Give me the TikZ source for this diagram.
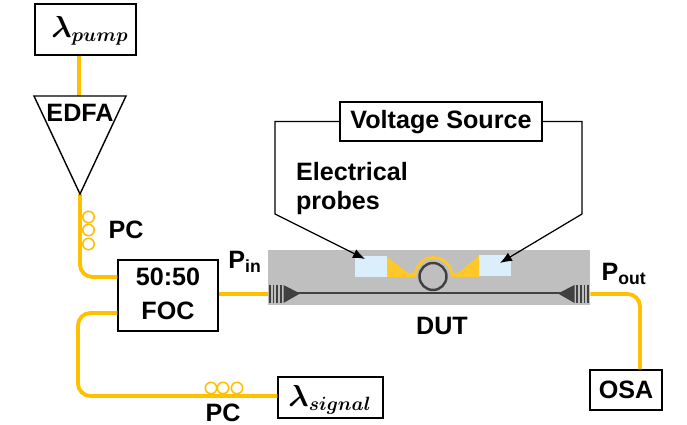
\documentclass[tikz,border=0pt]{standalone}
\usepackage{amsmath}
\usepackage{bm}
\usepackage{fontspec}
\setmainfont{Liberation Sans}
\usetikzlibrary{arrows.meta}
\tikzstyle{layout} = [x = .02cm, y = -.02cm]
\definecolor{fibreColor}{RGB}{255,192,0}
\definecolor{padColor}{RGB}{218,238,252}
\definecolor{goldColor}{RGB}{255,200,40}
\definecolor{chipColor}{RGB}{191,191,191}
\definecolor{guideColor}{RGB}{64,64,64}
\tikzstyle{boxStyle} = [draw=black, fill=white, thick, inner sep=0pt]
\tikzstyle{fibre} = [color=fibreColor, line width=2.2pt, rounded corners=.25cm]
\tikzstyle{coil} = [color=fibreColor, line width=.9pt]
\tikzstyle{wire} = [color=black, line width=.7pt]
\tikzstyle{probeArrow} = [wire, -{Latex[length=.24cm,width=.19cm]}]
\tikzstyle{boldText} = [font=\fontsize{14.3}{16}\selectfont\bfseries, inner sep=0pt]
\tikzstyle{lambdaText} = [font=\fontsize{16}{18}\selectfont, inner sep=0pt]
\newcommand{\labelBox}[4]{\node [boxStyle, minimum width=#3*.02cm, minimum height=#4*.02cm] (#1) at (#2) {};}
\newcommand{\coilCircle}[2]{\draw [coil] (#1,#2) circle [radius=5.7];}
\newcommand{\gratingCoupler}[2]{
  \foreach \tooth in {0,1,2,3} {
    \draw [color=guideColor, line width=1pt] (#1 + #2 * \tooth * 3.6, 285) -- + (0,18);
  }
  \fill [guideColor] (#1 + #2 * 13.5, 285) -- (#1 + #2 * 30, 293.5) -- (#1 + #2 * 13.5, 303) -- cycle;
}
\begin{document}
\begin{tikzpicture}[layout]
  \useasboundingbox (0,0) rectangle (687,425);
  % fibres first, boxes on top
  \coordinate (edfaTop) at (79,96);
  \coordinate (edfaTip) at (80,194);
  \coordinate (outCorner) at (640,294);
  \labelBox{pump}{85.5,29.5}{101}{51}
  \labelBox{foc}{168,295.5}{100}{71}
  \labelBox{signal}{330.5,397.5}{105}{41}
  \labelBox{osa}{626,390}{72}{40}
  \labelBox{source}{441,121.5}{202}{39}
  \fill [chipColor] (268,250) rectangle (590,305);
  \node [inner sep=0pt, minimum size=0pt] (chipIn) at (268,294) {};
  \node [inner sep=0pt, minimum size=0pt] (chipOut) at (590,294) {};

  \draw [fibre] (pump.south -| edfaTop) -- (edfaTop);
  \draw [fibre] (edfaTip) -- (80,277) -- (foc.west |- 0,277);
  \draw [fibre] (foc.west |- 0,313) -- (78,313) -- (78,396) -- (signal.west |- 0,396);
  \draw [fibre] (foc.east |- chipIn) -- (chipIn);
  \draw [fibre] (chipOut) -- (outCorner) -- (outCorner |- osa.north);

  \draw [boxStyle, line join=miter] (34,96) -- (126,96) -- (edfaTip) -- cycle;
  \foreach \row in {217,230,244} {
    \coilCircle{88.5}{\row}
  }
  \foreach \column in {211,223,237} {
    \coilCircle{\column}{388}
  }

  % chip
  \fill [padColor] (355,256) rectangle (387,277);
  \fill [padColor] (479,255) rectangle (511,276);
  \fill [goldColor] (387,257) -- (408,273) -- (415,273) -- (415,277) -- (387,277) -- cycle;
  \fill [goldColor] (479,256) -- (458,273) -- (452,273) -- (452,277) -- (479,277) -- cycle;
  \draw [color=goldColor, line width=1.5pt] (415,276) arc [start angle=180, end angle=360, radius=18.5];
  \draw [color=guideColor, line width=1.4pt] (433,276.5) circle [radius=13.5];
  \draw [color=guideColor, line width=1.3pt] (295,293) -- (565,293);
  \gratingCoupler{270}{1}
  \gratingCoupler{588}{-1}

  % probes
  \coordinate (probeLeft) at (275,214);
  \coordinate (probeRight) at (582,214);
  \coordinate (padLeft) at (365,259);
  \coordinate (padRight) at (500,263);
  \draw [probeArrow] (source.west) -- (probeLeft |- source.west) -- (probeLeft) -- (padLeft);
  \draw [probeArrow] (source.east) -- (probeRight |- source.east) -- (probeRight) -- (padRight);

  % labels
  \node [lambdaText] (pumpLabel) at (90,31) {$\bm{\lambda_{pump}}$};
  \node [lambdaText] (signalLabel) at (330,400) {$\bm{\lambda_{signal}}$};
  \node [boldText] (edfaLabel) at (80,113) {EDFA};
  \node [boldText] (pcTop) at (126,230) {PC};
  \node [boldText] (pcBottom) at (223,413) {PC};
  \node [boldText] (focFifty) at (168,277) {50:50};
  \node [boldText] (focLabel) at (168,311) {FOC};
  \node [boldText] (osaLabel) at (osa.center) {OSA};
  \node [boldText] (sourceLabel) at (441,122) {Voltage Source};
  \node [boldText] (probesTop) at (352,172) {Electrical};
  \node [boldText] (probesBottom) at (338,203) {probes};
  \node [boldText] (dutLabel) at (442,326) {DUT};
  \node [boldText] (pinLabel) at (245,262) {P\textsubscript{in}};
  \node [boldText] (poutLabel) at (624,274) {P\textsubscript{out}};
\end{tikzpicture}
\end{document}
